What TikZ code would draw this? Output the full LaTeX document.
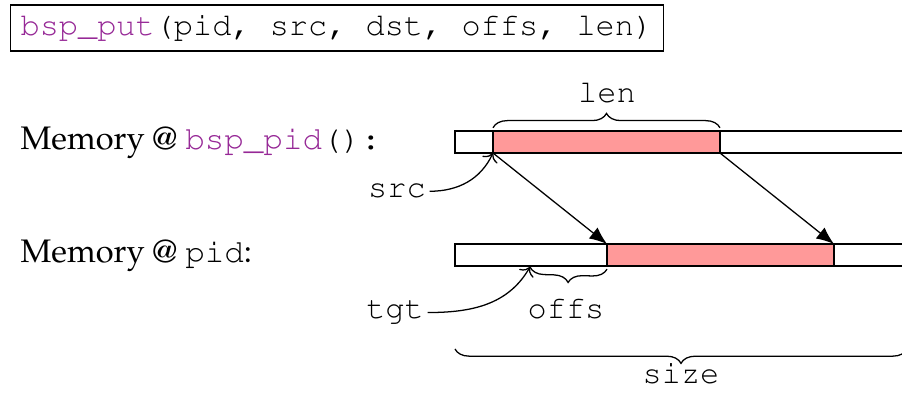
\documentclass[tikz,border=0pt]{standalone}
\usepackage[T1]{fontenc}
\renewcommand{\rmdefault}{ppl}
\renewcommand{\ttdefault}{pcr}
\usetikzlibrary{decorations.pathreplacing, arrows.meta}
\definecolor{fnpurple}{RGB}{150,40,150}
\definecolor{blkpink}{RGB}{255,153,153}
\newcommand{\fn}[1]{\textcolor{fnpurple}{\texttt{#1}}}
\tikzset{
  blk/.style={draw, fill=blkpink, anchor=south west, inner sep=0, outer sep=0,
    minimum width=2.497cm, minimum height=0.242cm},
  lbl/.style={font=\ttfamily, inner sep=1pt, anchor=base},
  brc/.style={decorate, decoration={brace, amplitude=4.5pt}},
  brcm/.style={decorate, decoration={brace, mirror, amplitude=4.5pt}},
  cpy/.style={-{Latex[length=5.5pt, width=4.4pt]}}
}
\begin{document}
\begin{tikzpicture}[x=0.011cm, y=0.011cm]
    \useasboundingbox (0,0) rectangle (902,395);
    \clip (0,0) rectangle (902,395);
    \node[draw, anchor=base west, inner xsep=0.11cm, inner ysep=0, text height=0.341cm, text depth=0.165cm] (call) at (10,359) {\fn{bsp\_put}\texttt{(pid, src, dst, offs, len)}};
    \node[anchor=base west, inner sep=0, font=\fontsize{10.2}{12}\selectfont] (memsrc) at (20,245) {Memory @ \fn{bsp\_pid}\texttt{():}};
    \node[anchor=base west, inner sep=0, font=\fontsize{10.2}{12}\selectfont] (memdst) at (20,132) {Memory @ \texttt{pid}:};
    \draw (455,242) rectangle (915,264);
    \draw (455,129) rectangle (915,151);
    \node[blk] (srcblk) at (493,242) {};
    \node[blk] (dstblk) at (607,129) {};
    \draw[cpy] (srcblk.south west) -- (dstblk.north west);
    \draw[cpy] (srcblk.south east) -- (dstblk.north east);
    \draw[brc] ([yshift=1pt]srcblk.north west) -- ([yshift=1pt]srcblk.north east);
    \node[lbl] (len) at (607,292) {len};
    \node[lbl] (src) at (397,197) {src};
    \draw[->] (src.east) to[out=0, in=245] (srcblk.south west);
    \coordinate (offs0) at (530,128);
    \draw[brcm] (offs0) -- ([yshift=-1pt]dstblk.south west);
    \node[lbl] (offs) at (566,76) {offs};
    \node[lbl] (tgt) at (395,76) {tgt};
    \draw[->] (tgt.east) to[out=0, in=240] (offs0);
    \coordinate (size0) at (455,46);
    \coordinate (size1) at (907,46);
    \draw[brcm] (size0) -- (size1);
    \node[lbl] (size) at (681,11) {size};
\end{tikzpicture}
\end{document}
